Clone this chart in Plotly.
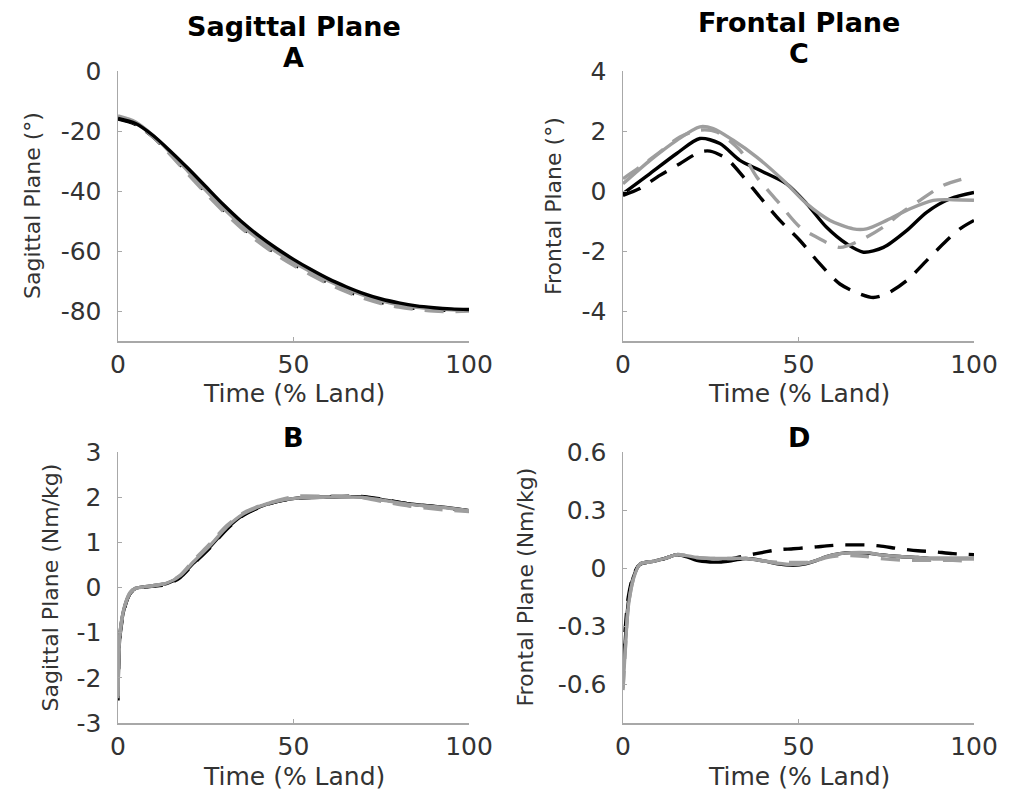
import plotly.graph_objects as go

W, H = 1010, 792

# ---------------- DATA ----------------
# Panel A: Sagittal plane angle (deg)
a_x = [0, 5, 10, 15, 20, 25, 30, 35, 40, 45, 50, 55, 60, 65, 70, 75, 80, 85, 90, 95, 100]
a_black_solid = [-15.8, -17.5, -21.5, -26.8, -32.5, -38.5, -44.5, -50, -54.8, -59, -62.8, -66.2, -69.3, -71.9, -74.2, -76, -77.3, -78.3, -78.9, -79.3, -79.5]
a_black_dash = [-16, -17.8, -22, -27.8, -34, -40.3, -46.3, -51.8, -56.6, -60.8, -64.4, -67.6, -70.6, -73.2, -75.4, -77.2, -78.4, -79.2, -79.6, -79.8, -79.8]
a_gray_solid = [-15, -17, -21.5, -27.3, -33.5, -39.8, -45.8, -51.2, -56, -60.2, -63.8, -67, -70, -72.6, -74.8, -76.6, -77.9, -78.8, -79.3, -79.6, -79.7]
a_gray_dash = [-15.3, -17.5, -22, -28, -34.5, -40.8, -46.8, -52.2, -57, -61.2, -64.8, -68, -71, -73.6, -75.8, -77.5, -78.7, -79.5, -80, -80.2, -80]

# Panel C: Frontal plane angle (deg)
c_black_solid_x = [0, 7.7, 15.3, 21.9, 27.6, 33.3, 39, 46.6, 52.3, 58, 63.7, 68.5, 74.2, 80.8, 86.5, 93.2, 100]
c_black_solid = [-0.09, 0.58, 1.25, 1.75, 1.58, 1.02, 0.69, 0.24, -0.42, -1.21, -1.76, -2.04, -1.88, -1.32, -0.71, -0.26, -0.05]
c_black_dash_x = [0, 4.8, 10.5, 16.2, 21.9, 24.8, 29.5, 34.3, 39, 44.7, 50.4, 56.1, 61.8, 67.5, 71.3, 75.1, 80.8, 86.5, 92.2, 96, 100]
c_black_dash = [-0.15, 0.08, 0.52, 0.91, 1.30, 1.33, 1.08, 0.47, -0.20, -0.98, -1.65, -2.43, -3.10, -3.43, -3.55, -3.43, -2.99, -2.32, -1.65, -1.26, -0.98]
c_gray_solid_x = [0, 7.7, 15.3, 21.9, 25.7, 31.4, 38.1, 45.7, 52.3, 59, 65.6, 69.4, 75.1, 81.8, 88.4, 94.1, 100]
c_gray_solid = [0.24, 1.02, 1.69, 2.14, 2.08, 1.69, 1.13, 0.35, -0.42, -0.98, -1.26, -1.26, -0.98, -0.59, -0.31, -0.29, -0.31]
c_gray_dash_x = [0, 4.8, 10.5, 16.2, 21.9, 26.7, 33.3, 38.1, 43.8, 50.4, 55.2, 61.8, 67.5, 74.2, 78.9, 84.6, 91.3, 97]
c_gray_dash = [0.41, 0.80, 1.30, 1.80, 2.03, 1.97, 1.36, 0.47, -0.31, -1.2, -1.54, -1.88, -1.65, -1.2, -0.76, -0.31, 0.19, 0.41]

# Panel B: Sagittal plane moment (Nm/kg)
b_x = [0, 0.6, 2, 3.5, 5, 9, 14, 17.7, 21.5, 26.2, 31, 35.7, 40.5, 45.2, 50.9, 59.5, 68.9, 75.6, 83.2, 92.7, 100]
b_black_solid = [-2.45, -1.0, -0.4, -0.12, -0.02, 0.03, 0.09, 0.24, 0.54, 0.90, 1.31, 1.61, 1.79, 1.90, 1.98, 2.0, 2.01, 1.94, 1.85, 1.78, 1.70]
b_black_dash = [-2.5, -1.05, -0.42, -0.13, -0.03, 0.02, 0.07, 0.22, 0.52, 0.88, 1.29, 1.6, 1.78, 1.9, 1.98, 2.01, 2.02, 1.95, 1.85, 1.77, 1.70]
b_gray_solid = [-2.4, -0.98, -0.38, -0.1, -0.02, 0.03, 0.1, 0.26, 0.57, 0.93, 1.34, 1.63, 1.8, 1.91, 1.98, 2.0, 2.0, 1.93, 1.84, 1.77, 1.70]
b_gray_dash = [-2.45, -1.0, -0.4, -0.12, -0.02, 0.03, 0.1, 0.27, 0.6, 0.97, 1.37, 1.65, 1.81, 1.92, 2.02, 2.02, 2.0, 1.9, 1.8, 1.72, 1.68]

# Panel D: Frontal plane moment (Nm/kg)
d_x = [0, 0.7, 1.5, 2.9, 4.8, 8.6, 12, 15.3, 18, 21, 24.8, 28, 31.4, 35, 40.9, 44, 48.5, 52, 55.2, 58, 61.8, 65, 69.4, 73, 78.9, 84, 88.4, 94, 100]
d_black_solid = [-0.55, -0.36, -0.18, -0.05, 0.02, 0.035, 0.05, 0.07, 0.06, 0.04, 0.032, 0.032, 0.04, 0.05, 0.035, 0.022, 0.015, 0.022, 0.04, 0.06, 0.075, 0.08, 0.078, 0.07, 0.06, 0.055, 0.05, 0.05, 0.05]
d_black_dash = [-0.49, -0.3, -0.15, -0.04, 0.02, 0.035, 0.05, 0.07, 0.06, 0.05, 0.04, 0.04, 0.05, 0.065, 0.085, 0.095, 0.1, 0.105, 0.11, 0.115, 0.12, 0.12, 0.12, 0.115, 0.1, 0.09, 0.085, 0.075, 0.07]
d_gray_solid = [-0.62, -0.4, -0.2, -0.06, 0.02, 0.035, 0.05, 0.07, 0.065, 0.055, 0.05, 0.05, 0.05, 0.05, 0.035, 0.025, 0.018, 0.025, 0.04, 0.06, 0.075, 0.08, 0.08, 0.07, 0.06, 0.055, 0.05, 0.05, 0.05]
d_gray_dash = [-0.63, -0.41, -0.2, -0.06, 0.02, 0.035, 0.05, 0.07, 0.065, 0.055, 0.05, 0.05, 0.05, 0.05, 0.035, 0.03, 0.03, 0.03, 0.04, 0.055, 0.065, 0.065, 0.06, 0.05, 0.042, 0.04, 0.04, 0.04, 0.035]

x_ticks = [0, 50, 100]
a_yticks = [0, -20, -40, -60, -80]
c_yticks = [4, 2, 0, -2, -4]
b_yticks = [3, 2, 1, 0, -1, -2, -3]
d_yticks = [0.6, 0.3, 0, -0.3, -0.6]
d_yticktext = ["0.6", "0.3", "0", "-0.3", "-0.6"]

panel_titles = {"A": ["Sagittal Plane", "A"], "C": ["Frontal Plane", "C"], "B": ["B"], "D": ["D"]}
y_titles = {"A": "Sagittal Plane (°)", "C": "Frontal Plane (°)",
            "B": "Sagittal Plane (Nm/kg)", "D": "Frontal Plane (Nm/kg)"}
x_title = "Time (% Land)"

# ---------------- STYLE ----------------
BLACK = "#000000"
GRAY = "#9e9e9e"
LW = 3.4
DASH = "19px,12px"
FONT = "DejaVu Sans"
AXC = "#a8a8a8"
TXT = "#333333"

fig = go.Figure()

def add_series(xs, ys, color, dash, ax):
    fig.add_trace(go.Scatter(
        x=xs, y=ys, mode="lines",
        line=dict(color=color, width=LW, dash=dash, shape="spline", smoothing=0.8),
        xaxis="x" + ax, yaxis="y" + ax, showlegend=False, hoverinfo="skip"))

# A -> axis 1, C -> axis 2, B -> axis 3, D -> axis 4
add_series(a_x, a_black_dash, BLACK, DASH, "")
add_series(a_x, a_gray_solid, GRAY, "solid", "")
add_series(a_x, a_gray_dash, GRAY, DASH, "")
add_series(a_x, a_black_solid, BLACK, "solid", "")

add_series(c_black_solid_x, c_black_solid, BLACK, "solid", "2")
add_series(c_black_dash_x, c_black_dash, BLACK, DASH, "2")
add_series(c_gray_solid_x, c_gray_solid, GRAY, "solid", "2")
add_series(c_gray_dash_x, c_gray_dash, GRAY, DASH, "2")

add_series(b_x, b_black_solid, BLACK, "solid", "3")
add_series(b_x, b_black_dash, BLACK, DASH, "3")
add_series(b_x, b_gray_dash, GRAY, DASH, "3")
add_series(b_x, b_gray_solid, GRAY, "solid", "3")

add_series(d_x, d_black_solid, BLACK, "solid", "4")
add_series(d_x, d_black_dash, BLACK, DASH, "4")
add_series(d_x, d_gray_dash, GRAY, DASH, "4")
add_series(d_x, d_gray_solid, GRAY, "solid", "4")

# geometry (pixels)
LX = (118, 469)
RX = (623, 974)
TY = (71, 341)
BY = (452, 723)

def px_dom(a, b, total):
    return [a / total, b / total]

def py_dom(top, bottom):
    return [1 - bottom / H, 1 - top / H]

def xaxis(dom, anchor):
    return dict(domain=px_dom(dom[0], dom[1], W), anchor=anchor, range=[0, 100],
                tickvals=x_ticks, ticktext=[str(v) for v in x_ticks],
                showline=True, linecolor=AXC, linewidth=1.5, ticks="inside", ticklen=4,
                tickcolor=AXC, tickwidth=1, showgrid=False, zeroline=False, automargin=False,
                tickfont=dict(family=FONT, size=25, color=TXT), ticklabelstandoff=0)

def yaxis(dom, anchor, rng, vals, texts):
    return dict(domain=py_dom(dom[0], dom[1]), anchor=anchor, range=rng,
                tickvals=vals, ticktext=texts,
                showline=True, linecolor=AXC, linewidth=1.5, ticks="inside", ticklen=4,
                tickcolor=AXC, tickwidth=1, showgrid=False, zeroline=False, automargin=False,
                tickfont=dict(family=FONT, size=25, color=TXT), ticklabelstandoff=10)

fig.update_layout(
    template="none",
    width=W, height=H, margin=dict(l=0, r=0, t=0, b=0, pad=0, autoexpand=False),
    paper_bgcolor="white", plot_bgcolor="white", showlegend=False,
    xaxis=xaxis(LX, "y"), yaxis=yaxis(TY, "x", [-90, 0], a_yticks, [str(v) for v in a_yticks]),
    xaxis2=xaxis(RX, "y2"), yaxis2=yaxis(TY, "x2", [-5, 4], c_yticks, [str(v) for v in c_yticks]),
    xaxis3=xaxis(LX, "y3"), yaxis3=yaxis(BY, "x3", [-3, 3], b_yticks, [str(v) for v in b_yticks]),
    xaxis4=xaxis(RX, "y4"), yaxis4=yaxis(BY, "x4", [-0.8, 0.6], d_yticks, d_yticktext),
)

ann = []

def add_text(text, px, py, size, bold=False, angle=0, color="#000"):
    ann.append(dict(text=("<b>%s</b>" % text) if bold else text,
                    x=px / W, y=1 - py / H, xref="paper", yref="paper",
                    xanchor="center", yanchor="middle", showarrow=False, textangle=angle,
                    font=dict(family=FONT, size=size, color=color)))

lc = (LX[0] + LX[1]) / 2
rc = (RX[0] + RX[1]) / 2
add_text(panel_titles["A"][0], lc, 27, 27, bold=True)
add_text(panel_titles["A"][1], lc, 58, 27, bold=True)
add_text(panel_titles["C"][0], rc, 22, 27, bold=True)
add_text(panel_titles["C"][1], rc, 53, 27, bold=True)
add_text(panel_titles["B"][0], lc, 438, 27, bold=True)
add_text(panel_titles["D"][0], rc, 438, 27, bold=True)

add_text(x_title, lc, 393, 25, color=TXT)
add_text(x_title, rc, 393, 25, color=TXT)
add_text(x_title, lc, 776, 25, color=TXT)
add_text(x_title, rc, 776, 25, color=TXT)

add_text(y_titles["A"], 32, (TY[0] + TY[1]) / 2, 22, angle=-90, color=TXT)
add_text(y_titles["C"], 553, (TY[0] + TY[1]) / 2, 22, angle=-90, color=TXT)
add_text(y_titles["B"], 50, (BY[0] + BY[1]) / 2, 22, angle=-90, color=TXT)
add_text(y_titles["D"], 525, (BY[0] + BY[1]) / 2, 22, angle=-90, color=TXT)

fig.update_layout(annotations=ann)

fig.write_html("out.html", config={"displayModeBar": False, "staticPlot": True},
               post_script="document.body.style.margin='0';document.body.style.padding='0';document.body.style.overflow='hidden';")
